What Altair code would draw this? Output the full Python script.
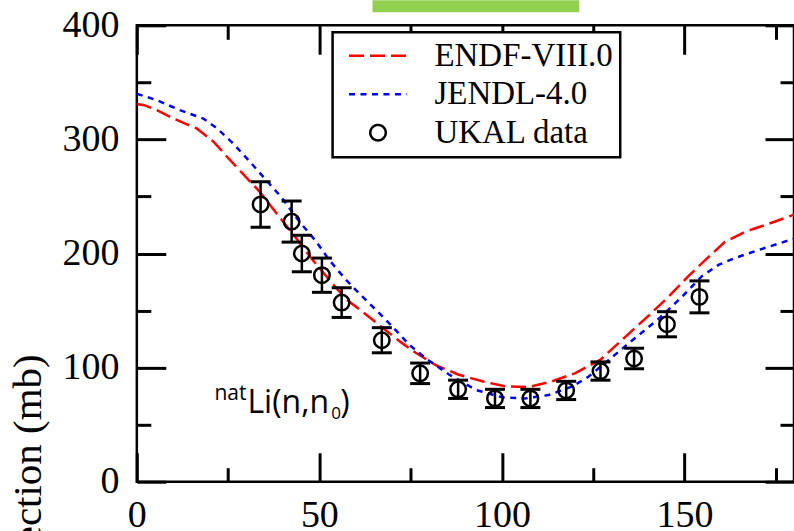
import altair as alt
import pandas as pd

# Evaluated angular distributions, natLi(n,n0): scattering angle (deg) vs cross section (mb)
ENDF_ANGLE = [0, 2, 5.5, 10, 16.4, 21, 25.5, 29, 33.7, 38.3, 43.5, 48, 52.7, 57.3, 61.8,
              67.3, 72, 76.4, 82, 88, 94.6, 101, 107.4, 113.7, 120, 127, 133.8, 140,
              145.6, 151, 156.6, 161, 166.6, 173, 180]
ENDF_XS = [331, 330, 325.6, 318.3, 309.6, 298, 282, 270, 254, 235, 214, 195, 177, 160, 149,
           135, 123, 113, 102, 94, 88, 83.5, 83, 88, 95, 107, 127, 145, 162, 180, 197, 210,
           219, 226, 234]

JENDL_ANGLE = [0, 5.5, 11.8, 18.2, 22, 26.4, 31, 35, 39.5, 44.5, 49, 52.7, 57.3, 61.8, 66.4,
               70, 74.6, 79.2, 85.5, 92.8, 100, 106.5, 112.8, 119.2, 123.7, 129, 136.5, 143,
               149.3, 154.7, 159.3, 163.8, 170.2, 180]
JENDL_XS = [340, 334.4, 325.6, 318.3, 309.6, 296.4, 280.3, 265.8, 249.7, 228, 211, 194.3,
            176.8, 162.2, 147.7, 136, 120, 108, 94, 80.5, 74, 73, 76, 83.4, 92, 106, 126, 143,
            162, 180, 190, 196, 203, 213]

# UKAL measurement
UKAL_ANGLE = [33.9, 42.4, 45.2, 50.7, 56.1, 67.1, 77.6, 88.0, 98.1, 107.8, 117.6, 127.0,
              136.2, 145.2, 154.1]
UKAL_XS = [243, 228, 200, 181, 157, 124, 95, 81, 73, 73, 80, 97, 108, 138, 162]
UKAL_ERR = [20, 18, 16, 15, 13, 11, 9, 8, 8, 8, 8, 8, 9, 11, 14]

SERIES = ["ENDF-VIII.0", "JENDL-4.0", "UKAL data"]
X_MAJOR = [0, 50, 100, 150]
X_MINOR = [25, 75, 125, 175]
Y_MAJOR = [0, 100, 200, 300, 400]
Y_MINOR = [50, 150, 250, 350]
X_RANGE = [0, 180]
Y_RANGE = [0, 400]

curves = pd.concat([
    pd.DataFrame({"angle": ENDF_ANGLE, "xs": ENDF_XS, "series": SERIES[0]}),
    pd.DataFrame({"angle": JENDL_ANGLE, "xs": JENDL_XS, "series": SERIES[1]}),
])
meas = pd.DataFrame({"angle": UKAL_ANGLE, "xs": UKAL_XS, "series": SERIES[2]})
meas["lo"] = meas["xs"] - pd.Series(UKAL_ERR)
meas["hi"] = meas["xs"] + pd.Series(UKAL_ERR)
single = pd.DataFrame({"k": [0]})

W, H = 658, 457
SERIF = "Liberation Serif"
xs = alt.Scale(domain=X_RANGE, nice=False, zero=False)
ys = alt.Scale(domain=Y_RANGE, nice=False, zero=False)

LINE_SYMBOL = "M-3.75,0L3.75,0"
legend = alt.Legend(
    title=None, orient="none", legendX=196, legendY=7,
    labelFont=SERIF, labelFontSize=33, labelColor="black", labelLimit=0, labelOffset=40,
    symbolOffset=22, symbolSize=240, symbolStrokeWidth=2.5,
    symbolFillColor="transparent", strokeColor="black", fillColor="white",
    padding=7, rowPadding=4.5,
)
color_enc = alt.Color("series:N", legend=legend,
                      scale=alt.Scale(domain=SERIES, range=["#ff0000", "#0000ff", "#000000"]))
dash_enc = alt.StrokeDash("series:N", legend=legend,
                          scale=alt.Scale(domain=SERIES, range=[[15, 6], [6, 5.5], [1, 0]]))
shape_enc = alt.Shape("series:N", legend=legend,
                      scale=alt.Scale(domain=SERIES, range=[LINE_SYMBOL, LINE_SYMBOL, "circle"]))

x_label_axis = alt.Axis(orient="bottom", values=X_MAJOR, ticks=False, tickSize=0, domain=False,
                        grid=False, labelFont=SERIF, labelFontSize=38, labelColor="black",
                        labelPadding=15, labelFlush=False, title=None)
y_label_axis = alt.Axis(orient="left", values=Y_MAJOR, ticks=False, tickSize=0, domain=False,
                        grid=False, labelFont=SERIF, labelFontSize=38, labelColor="black",
                        labelPadding=18, title="Cross section (mb)", titleFont=SERIF,
                        titleFontSize=41, titleFontWeight="normal", titleColor="black",
                        titleAngle=270, titleAlign="right", titleBaseline="alphabetic",
                        titleX=-96, titleY=329)


def tick_axis(orient, values, length):
    # tick-only axis; a negative size (given as an expression) turns the ticks inward
    return alt.Axis(orient=orient, values=values, tickSize={"expr": f"-{length}"},
                    tickWidth=3, tickColor="black", ticks=True, labels=False,
                    domain=False, grid=False, title=None)


def X(field, axis=None):
    return alt.X(field, type="quantitative", scale=xs, axis=axis)


def Y(field, axis=None):
    return alt.Y(field, type="quantitative", scale=ys, axis=axis)


lines = alt.Chart(curves).mark_line(strokeWidth=2.5).encode(
    x=X("angle", tick_axis("bottom", X_MAJOR, 29)),
    y=Y("xs", tick_axis("left", Y_MAJOR, 29)),
    color=color_enc, strokeDash=dash_enc,
)

bars = alt.Chart(meas).mark_rule(color="black", strokeWidth=2.5).encode(
    x=X("angle", x_label_axis),
    y=Y("lo", y_label_axis),
    y2="hi:Q",
)

caps = alt.Chart(meas).transform_fold(["lo", "hi"], as_=["end", "val"]).mark_tick(
    orient="horizontal", size=20, thickness=3, color="black", opacity=1
).encode(
    x=X("angle", tick_axis("bottom", X_MINOR, 14)),
    y=Y("val", tick_axis("left", Y_MINOR, 14)),
)

points = alt.Chart(meas).mark_point(filled=False, size=240, strokeWidth=2.5, opacity=1).encode(
    x=X("angle", tick_axis("top", X_MAJOR, 29)),
    y=Y("xs", tick_axis("right", Y_MAJOR, 29)),
    color=color_enc, shape=shape_enc,
)

# reaction label natLi(n,n0), anchored in data space
ANN_ANGLE, ANN_XS = 30.3, 60.4
SANS = "Open Sans"


def ann_piece(text, size, align, dx, dy, x_axis=None, y_axis=None):
    return alt.Chart(single).mark_text(
        text=text, font=SANS, fontSize=size, align=align, baseline="alphabetic",
        dx=dx, dy=dy, color="black",
    ).encode(x=alt.X(datum=ANN_ANGLE, type="quantitative", scale=xs, axis=x_axis),
             y=alt.Y(datum=ANN_XS, type="quantitative", scale=ys, axis=y_axis))


ann = [
    ann_piece("nat", 21, "right", -1, -13,
              tick_axis("top", X_MINOR, 14), tick_axis("right", Y_MINOR, 14)),
    ann_piece("Li(n,n", 32, "left", 0, 0),
    ann_piece("0", 17, "left", 84, 6),
    ann_piece(")", 32, "left", 93, 0),
]

banner = alt.Chart(single).mark_rect(color="#92D050").encode(
    x=alt.value(236), x2=alt.value(443), y=alt.value(-25), y2=alt.value(-13)
)

chart = alt.layer(lines, bars, caps, points, *ann, banner).resolve_axis(
    x="independent", y="independent"
).properties(
    width=W, height=H,
    padding={"left": 137, "top": 25, "right": 0, "bottom": 49},
    autosize=alt.AutoSizeParams(type="none"),
    background="white",
).configure_view(
    stroke="black", strokeWidth=2.5
).configure_legend(
    strokeWidth=2.5
)

chart.save("out.html", embed_options={"renderer": "svg", "actions": False})
